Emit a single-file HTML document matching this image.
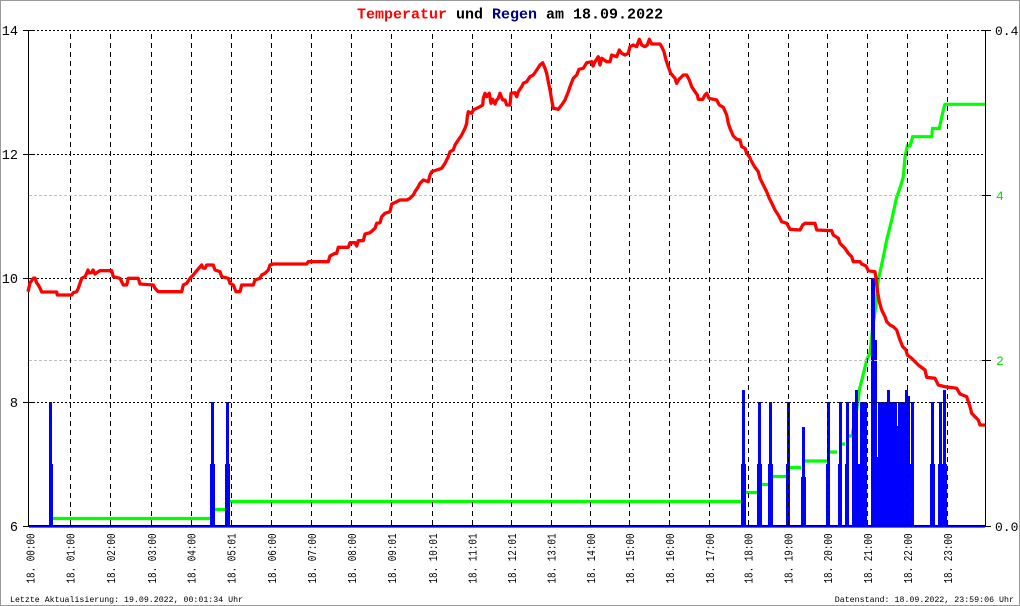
<!DOCTYPE html>
<html><head><meta charset="utf-8"><style>
html,body{margin:0;padding:0;background:#fff;}
svg{display:block;}
text{font-family:"Liberation Mono","DejaVu Sans Mono",monospace;}
</style></head><body>
<svg width="1020" height="606" viewBox="0 0 1020 606" xmlns="http://www.w3.org/2000/svg">
<rect x="0" y="0" width="1020" height="606" fill="#fff"/>
<rect x="0.5" y="0.5" width="1019" height="605" fill="none" stroke="#9a9a9a" stroke-width="1"/>

<!-- title -->
<text x="357" y="18.5" font-size="15" font-weight="bold"><tspan fill="#ff0000">Temperatur</tspan><tspan fill="#000"> und </tspan><tspan fill="#000080">Regen</tspan><tspan fill="#000"> am 18.09.2022</tspan></text>

<!-- green cumulative rain line -->
<g fill="none" stroke="#00ff00" stroke-width="3.2" stroke-linejoin="miter">
<polyline points="53,518.5 210,518.5"/>
<polyline points="215,509.5 225,509.5"/>
<polyline points="230,501.5 741,501.5"/>
<polyline points="746,492.5 757,492.5"/>
<polyline points="761,484.5 768,484.5"/>
<polyline points="773,476.5 786,476.5"/>
<polyline points="790,467.5 801,467.5"/>
<polyline points="805,461 827,461"/>
<polyline points="830,452 837,452"/>
<polyline points="841,444 845,444"/>
<polyline points="849,436 852,436 855,420 858.3,400 859.3,390 862.7,376.7 866.7,360 870,353 873,325 876,305 878.3,280 883.3,257 886.7,240 891.7,220 896.7,197 900,188 903.3,177 905,157 907.3,146 910,146 912.7,136.7 931.7,136.7 932.5,128.5 939.3,128.5 943.3,110 945,104.3 985.5,104.3"/>
</g>

<!-- blue rain bars -->
<g fill="#0000ff">
<rect x="49" y="464" width="4" height="62"/><rect x="49" y="402" width="3" height="124"/>
<rect x="210" y="464" width="5" height="62"/><rect x="211" y="402" width="3" height="124"/>
<rect x="225" y="464" width="5" height="62"/><rect x="226" y="402" width="3" height="124"/>
<rect x="741" y="464" width="5" height="62"/><rect x="742" y="390" width="3" height="136"/>
<rect x="757" y="464" width="5" height="62"/><rect x="758" y="402" width="3" height="124"/>
<rect x="768" y="464" width="5" height="62"/><rect x="769" y="402" width="3" height="124"/>
<rect x="786" y="464" width="4" height="62"/><rect x="787" y="402" width="3" height="124"/>
<rect x="801" y="477" width="5" height="49"/><rect x="802" y="427" width="3" height="99"/>
<rect x="826" y="464" width="4" height="62"/><rect x="827" y="402" width="3" height="124"/>
<rect x="838" y="464" width="4" height="62"/><rect x="839" y="402" width="3" height="124"/>
<rect x="845" y="464" width="4" height="62"/><rect x="846" y="402" width="3" height="124"/>
<rect x="852" y="402" width="6" height="124"/><rect x="855" y="390" width="3" height="12"/>
<rect x="858" y="464" width="2" height="62"/>
<rect x="860" y="402" width="7" height="124"/>
<rect x="871" y="278" width="4" height="248"/><rect x="875" y="340" width="2" height="186"/>
<rect x="877" y="457" width="1" height="69"/>
<rect x="878" y="402" width="19" height="124"/>
<rect x="887" y="390" width="3" height="12"/>
<rect x="897" y="426" width="1" height="100"/>
<rect x="898" y="402" width="12" height="124"/>
<rect x="905" y="390" width="3" height="12"/><rect x="908" y="396" width="2" height="6"/>
<rect x="910" y="464" width="4" height="62"/><rect x="911" y="402" width="3" height="124"/>
<rect x="930" y="464" width="5" height="62"/><rect x="931" y="402" width="3" height="124"/>
<rect x="938" y="464" width="9" height="62"/><rect x="939" y="402" width="3" height="124"/><rect x="943" y="390" width="3" height="136"/>
</g>

<!-- gray dashed lines (green scale) -->
<g stroke="#c0c0c0" stroke-width="1" stroke-dasharray="3,2">
<line x1="29" y1="195.5" x2="985" y2="195.5"/>
<line x1="29" y1="360.5" x2="985" y2="360.5"/>
</g>
<!-- black dotted horizontal lines -->
<g stroke="#000" stroke-width="1" stroke-dasharray="2,2">
<line x1="33" y1="30.5" x2="982" y2="30.5"/>
<line x1="29" y1="154.5" x2="985" y2="154.5"/>
<line x1="29" y1="278.5" x2="985" y2="278.5"/>
<line x1="29" y1="402.5" x2="985" y2="402.5"/>
</g>
<!-- vertical dashed lines -->
<g stroke="#000" stroke-width="1" stroke-dasharray="5,4">
<line x1="70.5" y1="34" x2="70.5" y2="526"/>
<line x1="110.5" y1="34" x2="110.5" y2="526"/>
<line x1="151.5" y1="34" x2="151.5" y2="526"/>
<line x1="191.5" y1="34" x2="191.5" y2="526"/>
<line x1="231.5" y1="34" x2="231.5" y2="526"/>
<line x1="271.5" y1="34" x2="271.5" y2="526"/>
<line x1="311.5" y1="34" x2="311.5" y2="526"/>
<line x1="351.5" y1="34" x2="351.5" y2="526"/>
<line x1="391.5" y1="34" x2="391.5" y2="526"/>
<line x1="432.5" y1="34" x2="432.5" y2="526"/>
<line x1="472.5" y1="34" x2="472.5" y2="526"/>
<line x1="511.5" y1="34" x2="511.5" y2="526"/>
<line x1="551.5" y1="34" x2="551.5" y2="526"/>
<line x1="590.5" y1="34" x2="590.5" y2="526"/>
<line x1="629.5" y1="34" x2="629.5" y2="526"/>
<line x1="669.5" y1="34" x2="669.5" y2="526"/>
<line x1="709.5" y1="34" x2="709.5" y2="526"/>
<line x1="748.5" y1="34" x2="748.5" y2="526"/>
<line x1="788.5" y1="34" x2="788.5" y2="526"/>
<line x1="827.5" y1="34" x2="827.5" y2="526"/>
<line x1="867.5" y1="34" x2="867.5" y2="526"/>
<line x1="907.5" y1="34" x2="907.5" y2="526"/>
<line x1="947.5" y1="34" x2="947.5" y2="526"/>
</g>

<!-- axes -->
<g stroke="#000" stroke-width="1">
<line x1="28.5" y1="30" x2="28.5" y2="527"/>
<line x1="985.5" y1="30" x2="985.5" y2="527"/>
<line x1="28" y1="525.5" x2="986" y2="525.5"/>
<line x1="23" y1="30.5" x2="33" y2="30.5"/>
<line x1="23" y1="154.5" x2="33" y2="154.5"/>
<line x1="23" y1="278.5" x2="33" y2="278.5"/>
<line x1="23" y1="402.5" x2="33" y2="402.5"/>
<line x1="23" y1="526.5" x2="33" y2="526.5"/>
<line x1="982" y1="30.5" x2="991" y2="30.5"/>
<line x1="982" y1="195.5" x2="991" y2="195.5"/>
<line x1="982" y1="360.5" x2="991" y2="360.5"/>
<line x1="982" y1="526.5" x2="991" y2="526.5"/>
</g>
<line x1="29" y1="526.8" x2="985" y2="526.8" stroke="#0000ff" stroke-width="1.6"/>

<!-- red temperature line -->
<polyline fill="none" stroke="#ff0000" stroke-width="3.3" stroke-linejoin="round" points="28,291.7 30,283 33.3,278.3 35,278 36.7,283 38.3,285 40,288 41.7,292 56.7,292 57.3,295 71.7,295 73.3,292.7 76.7,291.7 78.3,288.3 80,283.3 81.7,278.3 85,276.7 86.7,273.3 88,270 89,273 91.7,272.7 93,270 95,274 98.3,271.7 100,270.7 111.7,270.7 113.3,276.7 120,278.3 121.7,281.7 123.3,285 126.7,285 128.3,278.3 138.3,278.3 140,284 153.3,285 155,288.3 158.3,291.7 181.7,291.7 183.3,285 186.7,283.3 190,278.3 193.3,275 196.7,270.7 201.7,265 203,268 205,268.3 206.7,265 213.3,265 215,270 220,271.7 221.7,276.7 228.3,278.3 230,283.3 233.3,285 236,291.7 240,291.7 241.7,285 253.3,285 255,280 260,278.3 261.7,275 265,273.3 268.3,270 270,265 273.3,264 306.7,264 308.3,261.7 328.3,261.7 330,256 335,253.3 336.7,253.3 338.3,247.3 348.3,247.3 350,242.7 355,242.7 356.7,246 358.3,240.7 363.3,240.7 365,234 370,232.7 375,228.3 376.7,223.3 380,222.7 381.7,216.7 385,213.3 390,211.7 391.7,204 396.7,201.7 400,200 406.7,200 410,198.3 413.3,195 415,191.7 418.3,186.7 420,183.3 423.3,180 428.3,181.7 430,175 431.7,171.7 436.7,170 441.7,168.3 445,163.3 448.3,156.7 450,151.7 453.3,150 455,145 458.3,140 461.7,135 463.3,131.7 465,128.3 466.7,123.3 467.3,116.7 468.3,111.7 471.7,113.3 473.3,110 476.7,108.3 480,106.7 482.7,105 483.3,98.3 485,93.3 486.7,96.7 489.3,93.3 491,103.3 492.7,99.3 495,104 496.7,100 498.3,98.3 500,93.3 502.7,100 505,100 506.7,105 510,105 511,93.3 515,92.7 516.7,96.7 518.3,91.7 521.7,86.7 523.3,83.3 526.7,81.7 530,76.7 533.3,75 536.7,70 540,65 542.7,62.7 545,68.3 546.7,73.3 548.3,81.7 550,90 551.7,100 553.3,108.3 558.3,109.3 561.7,105 565,100 568.3,91.7 570,86.7 573.3,78.3 576.7,75 579,69.3 583.3,68.3 586.7,62.7 591.7,61.7 593,66 595,61.7 598.3,56.7 600,65 601.7,58.3 606.7,61.7 610,61.7 611.7,55 616.7,56.7 619.3,50 621.7,53.3 625,55 628.3,53.3 630,46.7 633.3,45 636.7,46.7 639.3,39.3 641.7,45 645,46.7 647.3,45 649.3,39.3 651.7,44 660,44 661.7,46.7 664,51.7 666,60 668.3,66.7 670.7,73.3 675,78.3 676.7,83.3 679,79.3 681.7,76.7 683.3,75 686.7,75 689.3,80 691.7,86.7 695,91.7 697.3,95 698.3,99.3 702.7,99.3 705,95 706.7,93.3 709,98.3 716.7,100 719.3,105 723.3,107.3 726.7,115 728.3,123.3 730,128.3 733.3,136 736.7,139.3 740,140 741.7,146.7 745,148.3 746.7,153.3 749.3,156.7 751.7,161.7 755,167.3 758.3,171.7 760,178.3 763.3,185 766.7,191.7 769.3,198.3 772.7,205 775,210 778.3,215 781.7,221.7 786.7,223.3 790,229.3 800,230 802.7,225 805,223.3 815,223.3 816.7,230 831.7,230.7 833.3,235 838.3,238.3 840,243.3 845,248.3 848.3,253.3 851.7,256.7 853.3,261.7 860,261.7 861.7,264 866,266 868.3,270.7 875,271.7 876,278.3 877.3,290 879.3,301.7 881.7,310 885,316.7 886.7,321.7 890,325 893.3,326.7 896.7,330 898.3,335 900,340 902.7,346.7 906,350 907.3,355 911.7,358.3 918.3,365 925,370 926.7,377.3 935,378.3 938.3,385 945,386.7 956.7,388.3 960,394 965,396 966.7,396.7 968.3,401.7 970,406.7 971.7,413.3 975,416.7 978.3,420 980,425 985,425"/>

<!-- left axis labels -->
<g font-size="13.5" fill="#000" text-anchor="end">
<text x="18" y="35">14</text>
<text x="18" y="159">12</text>
<text x="18" y="283">10</text>
<text x="18" y="407">8</text>
<text x="18" y="531">6</text>
</g>
<!-- right axis labels -->
<g font-size="13" fill="#000">
<text x="995" y="35">0.4</text>
<text x="995" y="531">0.0</text>
</g>
<g font-size="13" fill="#00e000">
<text x="996" y="200">4</text>
<text x="996" y="365">2</text>
</g>

<!-- x axis labels -->
<g font-size="12" fill="#000">
<text transform="translate(34.5,583.5) rotate(-90)" textLength="50" lengthAdjust="spacingAndGlyphs">18. 00:00</text>
<text transform="translate(74.5,583.5) rotate(-90)" textLength="50" lengthAdjust="spacingAndGlyphs">18. 01:00</text>
<text transform="translate(115,583.5) rotate(-90)" textLength="50" lengthAdjust="spacingAndGlyphs">18. 02:00</text>
<text transform="translate(156,583.5) rotate(-90)" textLength="50" lengthAdjust="spacingAndGlyphs">18. 03:00</text>
<text transform="translate(195.5,583.5) rotate(-90)" textLength="50" lengthAdjust="spacingAndGlyphs">18. 04:00</text>
<text transform="translate(235.5,583.5) rotate(-90)" textLength="50" lengthAdjust="spacingAndGlyphs">18. 05:01</text>
<text transform="translate(276,583.5) rotate(-90)" textLength="50" lengthAdjust="spacingAndGlyphs">18. 06:00</text>
<text transform="translate(316,583.5) rotate(-90)" textLength="50" lengthAdjust="spacingAndGlyphs">18. 07:00</text>
<text transform="translate(356,583.5) rotate(-90)" textLength="50" lengthAdjust="spacingAndGlyphs">18. 08:00</text>
<text transform="translate(396,583.5) rotate(-90)" textLength="50" lengthAdjust="spacingAndGlyphs">18. 09:01</text>
<text transform="translate(437,583.5) rotate(-90)" textLength="50" lengthAdjust="spacingAndGlyphs">18. 10:01</text>
<text transform="translate(476.5,583.5) rotate(-90)" textLength="50" lengthAdjust="spacingAndGlyphs">18. 11:01</text>
<text transform="translate(516,583.5) rotate(-90)" textLength="50" lengthAdjust="spacingAndGlyphs">18. 12:01</text>
<text transform="translate(555.5,583.5) rotate(-90)" textLength="50" lengthAdjust="spacingAndGlyphs">18. 13:01</text>
<text transform="translate(595,583.5) rotate(-90)" textLength="50" lengthAdjust="spacingAndGlyphs">18. 14:00</text>
<text transform="translate(634,583.5) rotate(-90)" textLength="50" lengthAdjust="spacingAndGlyphs">18. 15:00</text>
<text transform="translate(674,583.5) rotate(-90)" textLength="50" lengthAdjust="spacingAndGlyphs">18. 16:00</text>
<text transform="translate(714,583.5) rotate(-90)" textLength="50" lengthAdjust="spacingAndGlyphs">18. 17:00</text>
<text transform="translate(752.5,583.5) rotate(-90)" textLength="50" lengthAdjust="spacingAndGlyphs">18. 18:00</text>
<text transform="translate(792.5,583.5) rotate(-90)" textLength="50" lengthAdjust="spacingAndGlyphs">18. 19:00</text>
<text transform="translate(832,583.5) rotate(-90)" textLength="50" lengthAdjust="spacingAndGlyphs">18. 20:00</text>
<text transform="translate(872,583.5) rotate(-90)" textLength="50" lengthAdjust="spacingAndGlyphs">18. 21:00</text>
<text transform="translate(912,583.5) rotate(-90)" textLength="50" lengthAdjust="spacingAndGlyphs">18. 22:00</text>
<text transform="translate(952,583.5) rotate(-90)" textLength="50" lengthAdjust="spacingAndGlyphs">18. 23:00</text>
</g>

<!-- footer -->
<g font-size="8.3" fill="#000">
<text x="10" y="602" textLength="233" lengthAdjust="spacingAndGlyphs">Letzte Aktualisierung: 19.09.2022, 00:01:34 Uhr</text>
<text x="1014" y="602" text-anchor="end">Datenstand: 18.09.2022, 23:59:06 Uhr</text>
</g>
</svg>
</body></html>
